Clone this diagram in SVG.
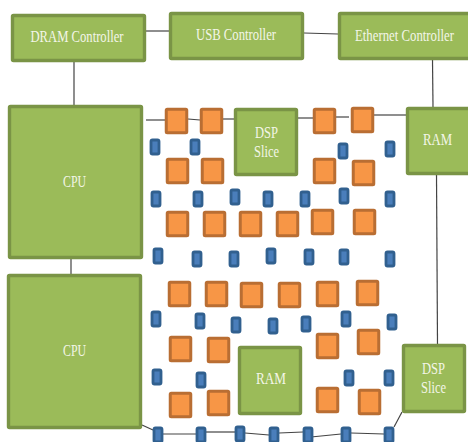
<svg xmlns="http://www.w3.org/2000/svg" width="468" height="442" viewBox="0 0 468 442">
<style>
.g{fill:#9bbb59;stroke:#7a9446;stroke-width:3.4}
.o{fill:#f79646;stroke:#b96e33;stroke-width:3}
.b{fill:#4a7ebb;stroke:#31608f;stroke-width:2.8}
.t{font-family:"Liberation Serif","Times New Roman",serif;font-size:16px;fill:#f3f6e8;text-anchor:middle}
.c line{stroke:#444;stroke-width:1.2}
</style>
<rect width="468" height="442" fill="#fff"/>
<g id="connectors" class="c">
<line x1="146" y1="31" x2="169" y2="31"/>
<line x1="304" y1="33" x2="338" y2="34"/>
<line x1="74" y1="62" x2="74" y2="105"/>
<line x1="432.5" y1="60" x2="433" y2="107"/>
<line x1="436.5" y1="175" x2="437.5" y2="344"/>
<line x1="71" y1="259" x2="71" y2="274"/>
<line x1="146" y1="120" x2="165" y2="120"/>
<line x1="188" y1="119" x2="200" y2="120"/>
<line x1="223" y1="119" x2="234" y2="119"/>
<line x1="298" y1="118" x2="313" y2="118"/>
<line x1="336" y1="117" x2="349" y2="117"/>
<line x1="374" y1="115" x2="406" y2="115"/>
<line x1="142" y1="425" x2="153" y2="430"/>
<line x1="163" y1="434" x2="196" y2="434"/>
<line x1="206" y1="432" x2="235" y2="432"/>
<line x1="245" y1="433" x2="269" y2="435"/>
<line x1="279" y1="433" x2="303" y2="432"/>
<line x1="311" y1="437" x2="341" y2="434"/>
<line x1="351" y1="433" x2="384" y2="434"/>
<line x1="394" y1="427" x2="402" y2="412"/>
</g>
<g id="dram"><rect class="g" x="12.5" y="15.5" width="132" height="45" rx="1"/><text class="t" x="77" y="42" textLength="93" lengthAdjust="spacingAndGlyphs">DRAM Controller</text></g>
<g id="usb"><rect class="g" x="170.500" y="13.500" width="132" height="45" rx="1"/><text class="t" x="236" y="40" textLength="80" lengthAdjust="spacingAndGlyphs">USB Controller</text></g>
<g id="ethernet"><rect class="g" x="339.500" y="13.500" width="132" height="45" rx="1"/><text class="t" x="404.500" y="41" textLength="99" lengthAdjust="spacingAndGlyphs">Ethernet Controller</text></g>
<g id="cpu1"><rect class="g" x="9.500" y="106.500" width="132" height="151" rx="1"/><text class="t" x="74.500" y="187" textLength="23" lengthAdjust="spacingAndGlyphs">CPU</text></g>
<g id="cpu2"><rect class="g" x="8.500" y="275.500" width="132" height="152" rx="1"/><text class="t" x="74.500" y="356" textLength="23" lengthAdjust="spacingAndGlyphs">CPU</text></g>
<g id="dsp1"><rect class="g" x="235.500" y="109.500" width="61" height="65" rx="1"/><text class="t" x="266.500" y="138" textLength="23" lengthAdjust="spacingAndGlyphs">DSP</text><text class="t" x="266.500" y="157" textLength="25" lengthAdjust="spacingAndGlyphs">Slice</text></g>
<g id="ram1"><rect class="g" x="407.500" y="108.500" width="64" height="65" rx="1"/><text class="t" x="437.500" y="145" textLength="29" lengthAdjust="spacingAndGlyphs">RAM</text></g>
<g id="ram2"><rect class="g" x="239.500" y="347.500" width="61" height="66" rx="1"/><text class="t" x="271" y="384" textLength="30" lengthAdjust="spacingAndGlyphs">RAM</text></g>
<g id="dsp2"><rect class="g" x="403.500" y="345.500" width="61" height="66" rx="1"/><text class="t" x="433.500" y="374" textLength="23" lengthAdjust="spacingAndGlyphs">DSP</text><text class="t" x="433.500" y="393" textLength="25" lengthAdjust="spacingAndGlyphs">Slice</text></g>
<g id="o1"><rect class="o" x="166.250" y="109.250" width="20.500" height="23.500" rx="1"/></g>
<g id="o2"><rect class="o" x="201.250" y="109.250" width="20.500" height="23.500" rx="1"/></g>
<g id="o3"><rect class="o" x="314.250" y="109.250" width="20.500" height="23.500" rx="1"/></g>
<g id="o4"><rect class="o" x="352.250" y="108.250" width="20.500" height="23.500" rx="1"/></g>
<g id="o5"><rect class="o" x="167.250" y="159.250" width="20.500" height="23.500" rx="1"/></g>
<g id="o6"><rect class="o" x="202.250" y="159.250" width="20.500" height="23.500" rx="1"/></g>
<g id="o7"><rect class="o" x="314.250" y="159.250" width="20.500" height="23.500" rx="1"/></g>
<g id="o8"><rect class="o" x="353.250" y="161.250" width="20.500" height="23.500" rx="1"/></g>
<g id="o9"><rect class="o" x="167.250" y="212.250" width="20.500" height="23.500" rx="1"/></g>
<g id="o10"><rect class="o" x="204.250" y="212.250" width="20.500" height="23.500" rx="1"/></g>
<g id="o11"><rect class="o" x="240.250" y="212.250" width="20.500" height="23.500" rx="1"/></g>
<g id="o12"><rect class="o" x="277.250" y="212.250" width="20.500" height="23.500" rx="1"/></g>
<g id="o13"><rect class="o" x="312.250" y="210.250" width="20.500" height="23.500" rx="1"/></g>
<g id="o14"><rect class="o" x="354.250" y="210.250" width="20.500" height="23.500" rx="1"/></g>
<g id="o15"><rect class="o" x="169.250" y="282.250" width="20.500" height="23.500" rx="1"/></g>
<g id="o16"><rect class="o" x="206.250" y="282.250" width="20.500" height="23.500" rx="1"/></g>
<g id="o17"><rect class="o" x="241.250" y="283.250" width="20.500" height="23.500" rx="1"/></g>
<g id="o18"><rect class="o" x="279.250" y="283.250" width="20.500" height="23.500" rx="1"/></g>
<g id="o19"><rect class="o" x="317.250" y="282.250" width="20.500" height="23.500" rx="1"/></g>
<g id="o20"><rect class="o" x="357.250" y="281.250" width="20.500" height="23.500" rx="1"/></g>
<g id="o21"><rect class="o" x="170.250" y="337.250" width="20.500" height="23.500" rx="1"/></g>
<g id="o22"><rect class="o" x="208.250" y="338.250" width="20.500" height="23.500" rx="1"/></g>
<g id="o23"><rect class="o" x="317.250" y="334.250" width="20.500" height="23.500" rx="1"/></g>
<g id="o24"><rect class="o" x="358.250" y="330.250" width="20.500" height="23.500" rx="1"/></g>
<g id="o25"><rect class="o" x="170.250" y="393.250" width="20.500" height="23.500" rx="1"/></g>
<g id="o26"><rect class="o" x="208.250" y="391.250" width="20.500" height="23.500" rx="1"/></g>
<g id="o27"><rect class="o" x="317.250" y="388.250" width="20.500" height="23.500" rx="1"/></g>
<g id="o28"><rect class="o" x="359.250" y="390.250" width="20.500" height="23.500" rx="1"/></g>
<g id="b1"><rect class="b" x="151" y="140" width="8" height="14" rx="1.500"/></g>
<g id="b2"><rect class="b" x="191" y="140" width="8" height="14" rx="1.500"/></g>
<g id="b3"><rect class="b" x="339" y="144" width="8" height="14" rx="1.500"/></g>
<g id="b4"><rect class="b" x="386" y="142" width="8" height="14" rx="1.500"/></g>
<g id="b5"><rect class="b" x="152" y="192" width="8" height="14" rx="1.500"/></g>
<g id="b6"><rect class="b" x="194" y="192" width="8" height="14" rx="1.500"/></g>
<g id="b7"><rect class="b" x="231" y="190" width="8" height="14" rx="1.500"/></g>
<g id="b8"><rect class="b" x="264" y="192" width="8" height="14" rx="1.500"/></g>
<g id="b9"><rect class="b" x="301" y="192" width="8" height="14" rx="1.500"/></g>
<g id="b10"><rect class="b" x="340" y="189" width="8" height="14" rx="1.500"/></g>
<g id="b11"><rect class="b" x="386" y="192" width="8" height="14" rx="1.500"/></g>
<g id="b12"><rect class="b" x="154" y="249" width="8" height="14" rx="1.500"/></g>
<g id="b13"><rect class="b" x="193" y="252" width="8" height="14" rx="1.500"/></g>
<g id="b14"><rect class="b" x="230" y="252" width="8" height="14" rx="1.500"/></g>
<g id="b15"><rect class="b" x="267" y="249" width="8" height="14" rx="1.500"/></g>
<g id="b16"><rect class="b" x="305" y="250" width="8" height="14" rx="1.500"/></g>
<g id="b17"><rect class="b" x="340" y="250" width="8" height="14" rx="1.500"/></g>
<g id="b18"><rect class="b" x="386" y="252" width="8" height="14" rx="1.500"/></g>
<g id="b19"><rect class="b" x="152" y="312" width="8" height="14" rx="1.500"/></g>
<g id="b20"><rect class="b" x="196" y="314" width="8" height="14" rx="1.500"/></g>
<g id="b21"><rect class="b" x="232" y="318" width="8" height="14" rx="1.500"/></g>
<g id="b22"><rect class="b" x="269" y="319" width="8" height="14" rx="1.500"/></g>
<g id="b23"><rect class="b" x="302" y="317" width="8" height="14" rx="1.500"/></g>
<g id="b24"><rect class="b" x="342" y="312" width="8" height="14" rx="1.500"/></g>
<g id="b25"><rect class="b" x="388" y="315" width="8" height="14" rx="1.500"/></g>
<g id="b26"><rect class="b" x="153" y="370" width="8" height="14" rx="1.500"/></g>
<g id="b27"><rect class="b" x="197" y="373" width="8" height="14" rx="1.500"/></g>
<g id="b28"><rect class="b" x="345" y="371" width="8" height="14" rx="1.500"/></g>
<g id="b29"><rect class="b" x="385" y="371" width="8" height="14" rx="1.500"/></g>
<g id="b30"><rect class="b" x="154" y="428" width="8" height="14" rx="1.500"/></g>
<g id="b31"><rect class="b" x="197" y="428" width="8" height="14" rx="1.500"/></g>
<g id="b32"><rect class="b" x="236" y="427" width="8" height="14" rx="1.500"/></g>
<g id="b33"><rect class="b" x="270" y="428" width="8" height="14" rx="1.500"/></g>
<g id="b34"><rect class="b" x="304" y="428" width="8" height="14" rx="1.500"/></g>
<g id="b35"><rect class="b" x="342" y="428" width="8" height="14" rx="1.500"/></g>
<g id="b36"><rect class="b" x="385" y="428" width="8" height="14" rx="1.500"/></g>
</svg>
